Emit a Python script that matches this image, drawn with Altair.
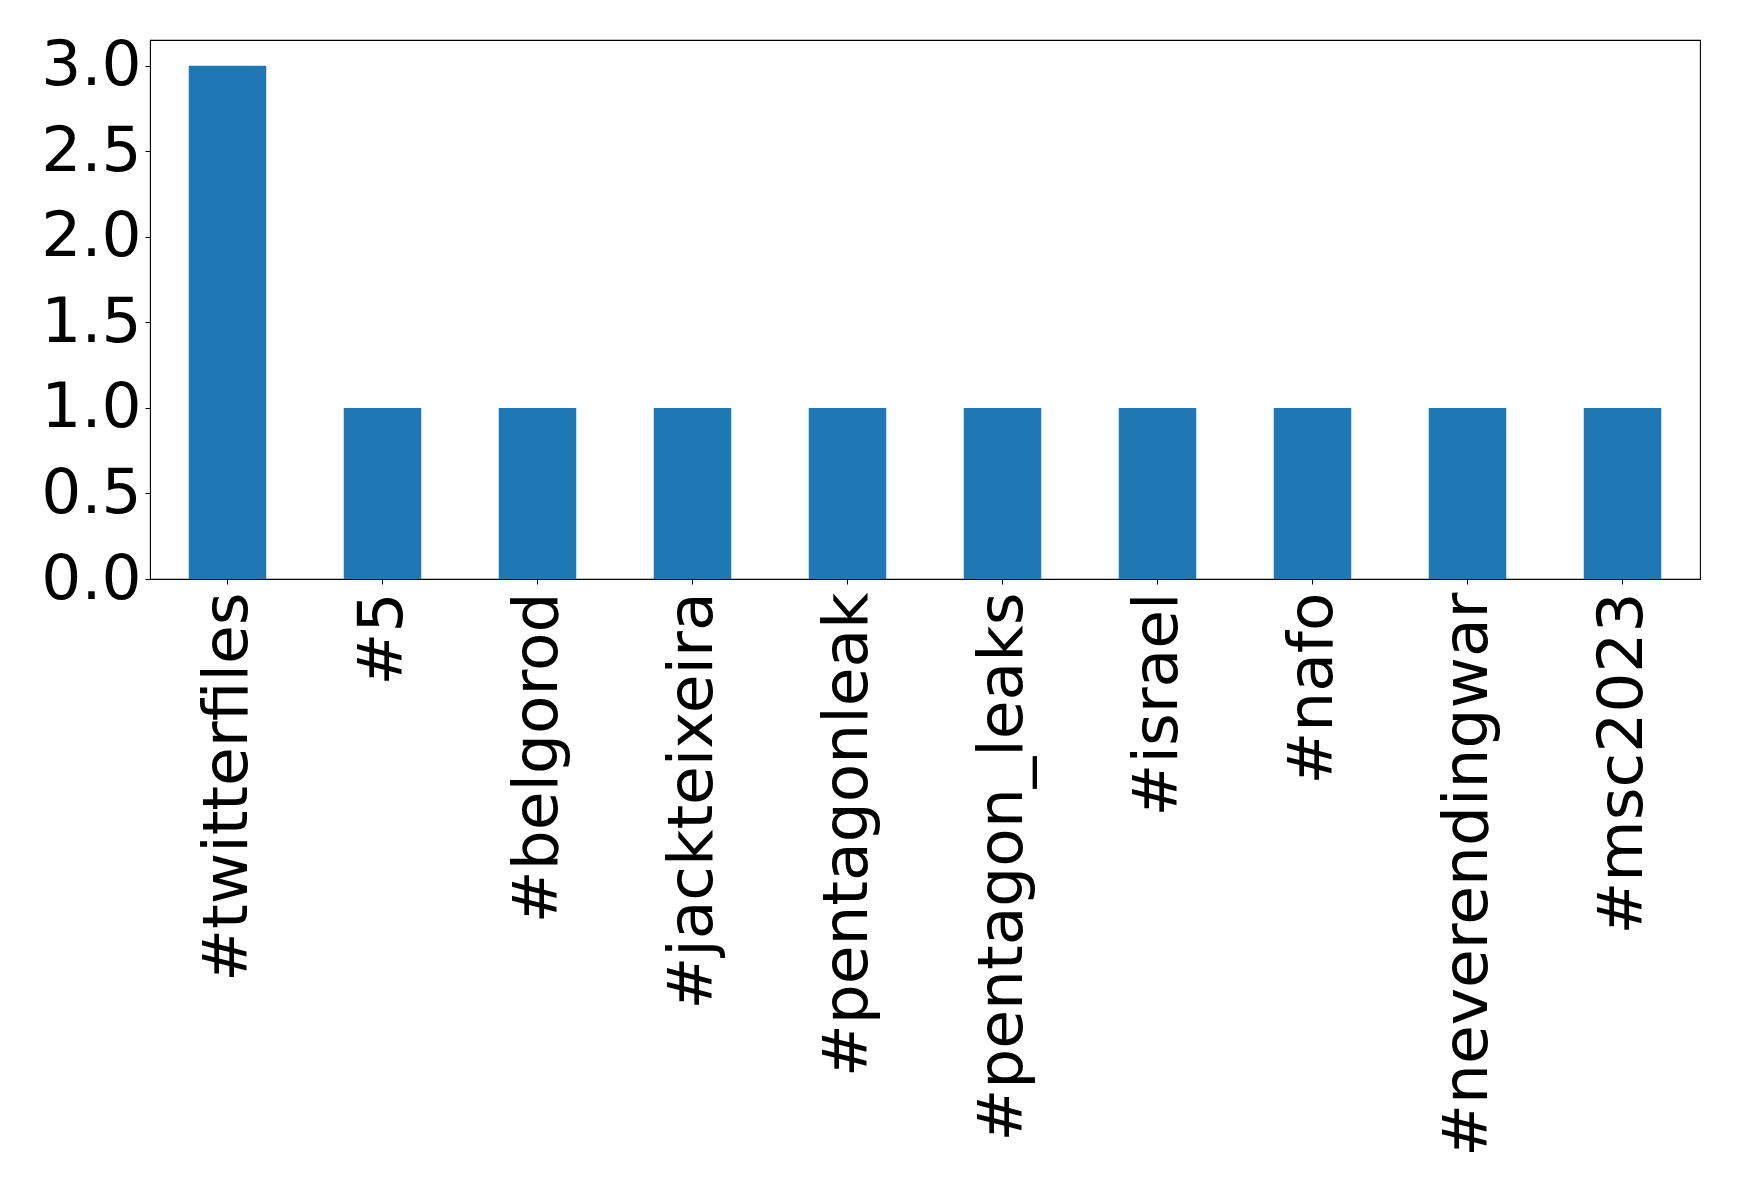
import altair as alt
import pandas as pd

categories = ["#twitterfiles", "#5", "#belgorod", "#jackteixeira", "#pentagonleak",
              "#pentagon_leaks", "#israel", "#nafo", "#neverendingwar", "#msc2023"]
counts = [3, 1, 1, 1, 1, 1, 1, 1, 1, 1]

df = pd.DataFrame({"tag": categories, "count": counts})

FONT = "DejaVu Sans"
FS = 63

chart = alt.Chart(df).mark_bar(color="#1f77b4").encode(
    x=alt.X("tag:N", sort=categories,
            scale=alt.Scale(paddingInner=0.5, paddingOuter=0.25),
            axis=alt.Axis(title=None, labelAngle=270, labelFontSize=FS, labelFont=FONT,
                          labelColor="black", tickColor="black", tickSize=5, labelPadding=8,
                          domainColor="black", labelLimit=0, labelOverlap=False)),
    y=alt.Y("count:Q", scale=alt.Scale(domain=[0, 3.15], nice=False, zero=True),
            axis=alt.Axis(title=None, values=[0, 0.5, 1, 1.5, 2, 2.5, 3], format=".1f",
                          labelFontSize=FS, labelFont=FONT, labelColor="black",
                          tickColor="black", tickSize=5, labelPadding=4, grid=False,
                          domainColor="black", labelOverlap=False)),
).properties(
    width=1550, height=539,
    background="white",
    autosize=alt.AutoSizeParams(type="none"),
    padding={"left": 142, "top": 32, "right": 25, "bottom": 595},
).configure_view(stroke="black", strokeWidth=1.1)

chart.save("out.html", embed_options={"renderer": "svg", "actions": False})
